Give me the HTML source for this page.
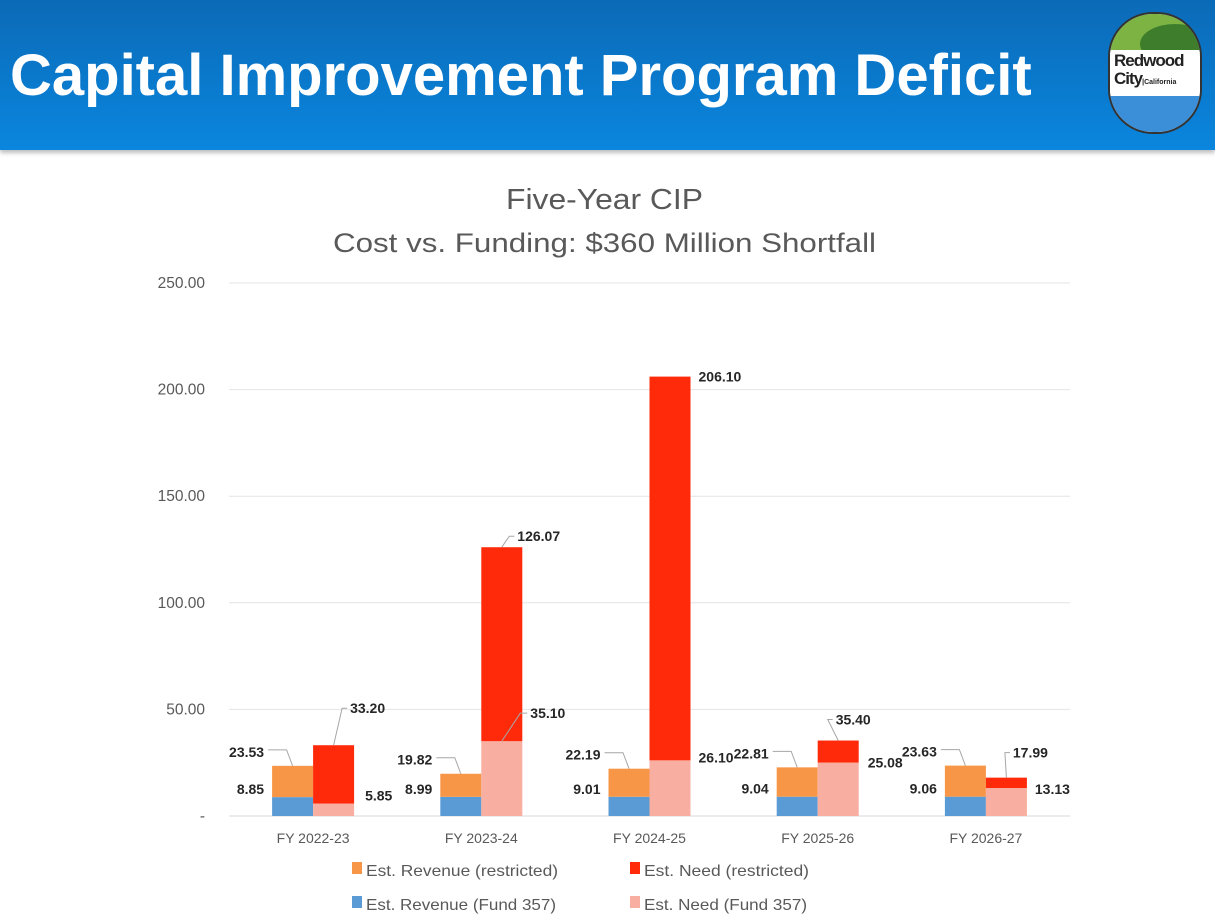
<!DOCTYPE html>
<html><head><meta charset="utf-8"><style>
html,body{margin:0;padding:0;width:1215px;height:915px;overflow:hidden;background:#fff;font-family:"Liberation Sans",sans-serif}
#hdr{position:absolute;left:0;top:0;width:1215px;height:150px;background:linear-gradient(#0b6ab7,#0a86de);box-shadow:0 3px 4px rgba(0,0,0,.25)}
#title{position:absolute;left:10px;top:47px;color:#fff;font-weight:bold;font-size:58px;line-height:58px;letter-spacing:0;white-space:nowrap}
#logo{position:absolute;left:1108px;top:12px;width:90px;height:118px;border-radius:45px;background:#fff;border:2px solid #333;overflow:hidden}
</style></head><body>
<div id="hdr">
<div id="title">Capital Improvement Program Deficit</div>
<div id="logo">
<div style="position:absolute;left:0;top:0;width:90px;height:38px;background:#7cb342"></div>
<div style="position:absolute;left:30px;top:10px;width:70px;height:40px;border-radius:50%;background:#3d7d2c"></div>
<div style="position:absolute;left:0;top:36px;width:90px;height:46px;background:#fff"></div>
<div style="position:absolute;left:4px;top:38px;font-weight:bold;font-size:17px;color:#222;line-height:18px;letter-spacing:-1px">Redwood<br>City<span style="font-size:7px;letter-spacing:0">|California</span></div>
<div style="position:absolute;left:0;top:82px;width:90px;height:40px;background:#3a8fd8"></div>
</div>
</div>
<svg id="chart" width="1215" height="915" style="position:absolute;left:0;top:0">
<text x="506" y="209" textLength="197" lengthAdjust="spacingAndGlyphs" font-size="29" fill="#595959">Five-Year CIP</text>
<text x="333" y="252" textLength="543" lengthAdjust="spacingAndGlyphs" font-size="27" fill="#595959">Cost vs. Funding: $360 Million Shortfall</text>
<g id="grid"></g><g id="bars"></g><g id="labels"></g>
<g font-size="16" fill="#595959">
<rect x="352" y="862" width="10" height="12" fill="#f79646"/><text x="366" y="876" textLength="192" lengthAdjust="spacingAndGlyphs">Est. Revenue (restricted)</text>
<rect x="630" y="862" width="10" height="12" fill="#ff2a0a"/><text x="644" y="876" textLength="165" lengthAdjust="spacingAndGlyphs">Est. Need (restricted)</text>
<rect x="352" y="896" width="10" height="12" fill="#5b9bd5"/><text x="366" y="910" textLength="190" lengthAdjust="spacingAndGlyphs">Est. Revenue (Fund 357)</text>
<rect x="630" y="896" width="10" height="12" fill="#f8aea0"/><text x="644" y="910" textLength="163" lengthAdjust="spacingAndGlyphs">Est. Need (Fund 357)</text>
</g>
</svg>
<script>
const categories=["FY 2022-23","FY 2023-24","FY 2024-25","FY 2025-26","FY 2026-27"];
const revenueTotal=[23.53,19.82,22.19,22.81,23.63];
const revenueFund357=[8.85,8.99,9.01,9.04,9.06];
const needTotal=[33.20,126.07,206.10,35.40,17.99];
const needFund357=[5.85,35.10,26.10,25.08,13.13];
const yTicks=[0,50,100,150,200,250];
const yTickLabels=["-","50.00","100.00","150.00","200.00","250.00"];
// label placement offsets (layout, pixels)
const needTotalOff=[[-4,-37],[-5,-11],[8,0],[-23,-21],[-14,-25]];
const needFundOff=[[11,-8],[8,-28],[8,-3],[9,0],[8,1]];
const NS='http://www.w3.org/2000/svg';
const X0=229,X1=1070,Y0=816,Y250=283;
const y=v=>Y0-(v/250)*(Y0-Y250);
const bw=(X1-X0)/categories.length;
const cx=i=>X0+bw*(i+0.5);
function mk(p,t,a){const e=document.createElementNS(NS,t);for(const k in a)e.setAttribute(k,a[k]);document.getElementById(p).appendChild(e);return e;}
yTicks.forEach((t,i)=>{
 if(t>0){const l=mk('grid','line',{x1:X0,x2:X1,y1:y(t),y2:y(t),stroke:'#e4e4e4','stroke-width':1});
 
 }
 const tx=mk('grid','text',{x:205,y:y(t)+5,'text-anchor':'end','font-size':15.5,fill:'#595959'});
 tx.textContent=yTickLabels[i];
 
 
});
const ax=mk('grid','line',{x1:X0,x2:X1,y1:Y0,y2:Y0,stroke:'#d9d9d9'});


const W=41;
function lbl(x,yc,anchor,v){
 const t=mk('labels','text',{x:x,y:yc+5,'text-anchor':anchor,'font-size':14,'font-weight':'bold',fill:'#262626'});
 t.textContent=v.toFixed(2);
 
 
}
function leader(pts){
 const p=mk('labels','polyline',{points:pts,fill:'none',stroke:'#a6a6a6'});
 
 
}
categories.forEach((c,i)=>{
 const xc=cx(i);
 const segs=[[xc-W,0,revenueFund357[i],'#5b9bd5'],[xc-W,revenueFund357[i],revenueTotal[i],'#f79646'],[xc,0,needFund357[i],'#f8aea0'],[xc,needFund357[i],needTotal[i],'#ff2a0a']];
 segs.forEach((s,k)=>{
  const r=mk('bars','rect',{x:s[0],y:y(s[2]),width:W,height:y(s[1])-y(s[2]),fill:s[3]});
  
  
 });
 const xl=mk('labels','text',{x:xc,y:843,'text-anchor':'middle','font-size':14,fill:'#595959'});
 xl.textContent=c;
 
 
 lbl(xc-W-8,y(revenueTotal[i])-14,'end',revenueTotal[i]);
 lbl(xc-W-8,y(revenueFund357[i])-8,'end',revenueFund357[i]);
 leader(`${xc-W-4},${y(revenueTotal[i])-16} ${xc-W/2-6},${y(revenueTotal[i])-16} ${xc-W/2},${y(revenueTotal[i])}`);
 const nt=needTotalOff[i], nf=needFundOff[i];
 const tx=xc+W+nt[0], ty=y(needTotal[i])+nt[1];
 lbl(tx,ty,'start',needTotal[i]);
 if(nt[1]<-5) leader(`${tx-3},${ty} ${tx-8},${ty} ${xc+W/2},${y(needTotal[i])}`);
 const fx=xc+W+nf[0], fy=y(needFund357[i])+nf[1];
 lbl(fx,fy,'start',needFund357[i]);
 if(nf[1]<-15) leader(`${fx-3},${fy} ${fx-10},${fy} ${xc+W/2},${y(needFund357[i])}`);
});
</script>
</body></html>
